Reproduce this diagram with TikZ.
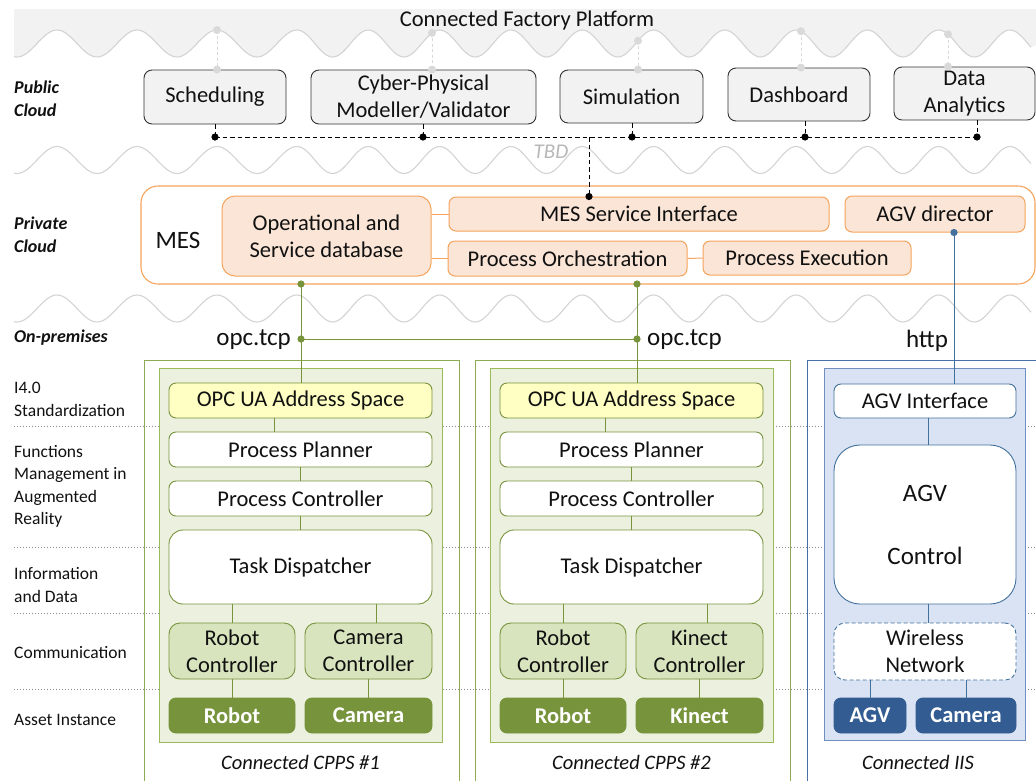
\documentclass[tikz,border=0pt]{standalone}
\usepackage{fontspec}
\setmainfont{Carlito}
\usetikzlibrary{calc}

\definecolor{topgrey}{HTML}{F2F2F2}
\definecolor{wavegrey}{HTML}{D4D4D4}
\definecolor{dotgrey}{HTML}{D9D9D9}
\definecolor{orangeB}{HTML}{F5A45D}
\definecolor{peach}{HTML}{FBE5D6}
\definecolor{greenL}{HTML}{77933C}
\definecolor{greenO}{HTML}{8DAA55}
\definecolor{greenI}{HTML}{9BBB59}
\definecolor{greenBG}{HTML}{EBF1DE}
\definecolor{greenC}{HTML}{D7E4BD}
\definecolor{greenA}{HTML}{77933C}
\definecolor{yellowF}{HTML}{FFFFC3}
\definecolor{blueL}{HTML}{41719C}
\definecolor{blueO}{HTML}{4A6FA5}
\definecolor{blueBG}{HTML}{DAE3F3}
\definecolor{blueI}{HTML}{6F8FC0}
\definecolor{blueA}{HTML}{335C92}
\definecolor{txt}{HTML}{111111}

\newcommand\fs[2]{\fontsize{#1}{#2}\selectfont}
% box node from its corner coordinates: name, x1, y1, x2, y2, style
\newcommand\bx[6]{\node[#6, minimum width={((#4)-(#2))*1pt}, minimum height={((#5)-(#3))*1pt}] (#1) at ({((#2)+(#4))/2},{((#3)+(#5))/2})}

\tikzset{
  declare function={wph(\t)=(\t<=297)*((\t-57)/80)+(\t>297)*(3+(\t-297)/71.3);},
  wv/.style={domain=14:1031, samples=400, smooth},
  box/.style={draw, inner sep=0pt, align=center, text=txt, font=\fs{22.5}{27}},
  pub/.style={box, draw=black!80, fill=topgrey, rounded corners=8pt, line width=0.9pt},
  mesbox/.style={draw=orangeB, fill=white, rounded corners=17pt, line width=1.1pt},
  orng/.style={box, draw=orangeB, fill=peach, rounded corners=7pt, line width=1pt},
  gin/.style={box, draw=greenL, fill=white, rounded corners=7pt, line width=0.9pt},
  gopc/.style={gin, fill=yellowF},
  gctl/.style={gin, fill=greenC},
  gasset/.style={gin, fill=greenA, draw=greenA, text=white, font=\fs{22.5}{27}\bfseries},
  bin/.style={box, draw=blueL, fill=white, rounded corners=7pt, line width=0.9pt},
  basset/.style={bin, fill=blueA, draw=blueA, text=white, font=\fs{22.5}{27}\bfseries},
  side/.style={anchor=west, align=left, inner sep=0pt, text=txt, font=\fs{17.5}{22.5}},
  head/.style={anchor=west, align=left, inner sep=0pt, text=txt, font=\fs{18}{23}\bfseries\itshape},
  capt/.style={inner sep=0pt, text=txt, font=\fs{20.5}{24}\itshape},
  proto/.style={inner sep=0pt, text=txt, font=\fs{25}{30}},
  gline/.style={draw=greenL, line width=1pt},
  bline/.style={draw=blueL, line width=1pt},
  oline/.style={draw=orangeB, line width=1pt},
  wline/.style={draw=wavegrey, line width=1.1pt},
  layer/.style={draw=black!45, line width=0.9pt, dash pattern=on 1.1pt off 1.9pt},
  bus/.style={draw=black, line width=1pt, dash pattern=on 4.5pt off 3pt},
  gdash/.style={draw=dotgrey, line width=1pt, dash pattern=on 3pt off 2.5pt},
}

\begin{document}
\begin{tikzpicture}[x=1pt,y=-1pt]
\useasboundingbox (0,0) rectangle (1036,780);
\fill[white] (0,0) rectangle (1036,780);

% cloud band and wavy separators
\fill[topgrey] (14,9) -- plot[wv] (\x,{43.5-13.5*cos(360*wph(\x))}) -- (1036,45) -- (1036,9) -- cycle;
\draw[wline] plot[wv] (\x,{43.5-13.5*cos(360*wph(\x))});
\draw[wline] plot[wv] (\x,{160-13.5*cos(360*wph(\x))});
\draw[wline] plot[wv] (\x,{308.5-13.5*cos(360*wph(\x))});

\node[inner sep=0pt, text=txt, font=\fs{22.5}{27}] (cfp) at (527,20) {Connected Factory Platform};
\node[inner sep=0pt, text=black!28, font=\fs{21}{25}\itshape] (tbd) at (551,152) {TBD};

% layer captions
\node[head] (lpub) at (14,98.5) {Public\\Cloud};
\node[head] (lpriv) at (14,234.5) {Private\\Cloud};
\node[head] (lprem) at (14,338) {On-premises};
\node[side] (l1) at (14,399.5) {I4.0\\Standardization};
\node[side] (l2) at (14,486.5) {Functions\\Management in\\Augmented\\Reality};
\node[side] (l3) at (14,585) {Information\\and Data};
\node[side] (l4) at (14,653) {Communication};
\node[side] (l5) at (14,720) {Asset Instance};

% public cloud services
\bx{sched}{144}{70}{286}{124}{pub}{Scheduling};
\bx{cyber}{311}{70}{536}{124}{pub}{Cyber-Physical\\Modeller/Validator};
\bx{sim}{560}{70}{703}{123}{pub}{Simulation};
\bx{dash}{728}{68}{870}{121}{pub}{Dashboard};
\bx{data}{894}{67}{1035}{120}{pub}{Data\\Analytics};

% links up to the platform
\foreach \n/\px in {sched/217, cyber/432, sim/638, dash/801, data/948} {
  \coordinate (w-\n) at (\px,{43.5-13.5*cos(360*wph(\px))});
  \draw[gdash] (w-\n) -- (w-\n |- \n.north);
  \fill[dotgrey] (w-\n) circle (4pt);
  \fill[dotgrey] (w-\n |- \n.north) circle (4pt);
}

% service bus
\foreach \n/\px in {sched/215, cyber/423, sim/632, dash/805, data/977} {
  \coordinate (b-\n) at (\px,137);
  \draw[bus] (b-\n |- \n.south) -- (b-\n);
  \fill (b-\n) circle (3.6pt);
}
\draw[bus] (b-sched) -- (b-data);
\coordinate (bm) at (589,137);

% private cloud
\draw[mesbox] (141,186) rectangle (1035,284);
\node[proto] (mes) at (178,240) {MES};
\bx{opdb}{222}{196}{431}{276}{orng, rounded corners=13pt}{Operational and\\Service database};
\bx{mesi}{449}{197}{829}{231}{orng}{MES Service Interface};
\bx{porch}{448}{241}{687}{276}{orng}{Process Orchestration};
\bx{pexec}{703}{241}{911}{275}{orng}{Process Execution};
\bx{agvd}{845}{196}{1025}{232}{orng}{AGV director};
\draw[oline] (opdb.east |- mesi.west) -- (mesi.west);
\draw[oline] (opdb.east |- porch.west) -- (porch.west);
\draw[oline] (porch.east) -- (pexec.west);
\draw[bus] (bm) -- (bm |- mesi.north);
\fill (bm |- mesi.north) circle (3.6pt);

% on-premises frames
\foreach \dx in {0,331} {
  \draw[draw=greenO, line width=1pt] (144+\dx,781) -- (144+\dx,360) -- (459+\dx,360) -- (459+\dx,781);
}
\draw[draw=blueO, line width=1pt] (807,781) -- (807,360) -- (1037,360);

% layer boundaries
\foreach \ly in {426,547,613,689} {
  \draw[layer] (14,\ly) -- (1036,\ly);
}

% connected CPPS cells
\foreach \dx/\k/\cam in {0/1/Camera, 331/2/Kinect} {
  \fill[greenBG] (159+\dx,368) rectangle (442+\dx,742);
  \draw[draw=greenI, line width=1pt] (159+\dx,368) rectangle (442+\dx,742);
  \bx{opc\k}{169+\dx}{383}{432+\dx}{418}{gopc}{OPC UA Address Space};
  \bx{pp\k}{169+\dx}{432}{432+\dx}{467}{gin}{Process Planner};
  \bx{pc\k}{169+\dx}{481}{432+\dx}{516}{gin}{Process Controller};
  \bx{td\k}{169+\dx}{530}{432+\dx}{604}{gin, rounded corners=14pt}{Task Dispatcher};
  \bx{rc\k}{169+\dx}{623}{295+\dx}{679}{gctl, rounded corners=11pt}{Robot\\Controller};
  \bx{cc\k}{305+\dx}{623}{432+\dx}{679}{gctl, rounded corners=11pt}{\cam\\Controller};
  \bx{ra\k}{169+\dx}{698}{295+\dx}{733}{gasset}{Robot};
  \bx{ca\k}{305+\dx}{698}{432+\dx}{733}{gasset}{\cam};
  \node[capt] (cpps\k) at (300.5+\dx,762) {Connected CPPS \#\k};
  \draw[gline] ([xshift=-26.5pt]opc\k.south) -- ([xshift=-26.5pt]pp\k.north);
  \draw[gline] (pp\k.south) -- (pc\k.north);
  \draw[gline] (pc\k.south) -- (td\k.north);
  \draw[gline] (td\k.south -| rc\k) -- (rc\k.north);
  \draw[gline] ([xshift=7.5pt]td\k.south -| cc\k) -- ([xshift=7.5pt]cc\k.north);
  \draw[gline] (rc\k.south) -- (ra\k.north);
  \draw[gline] (cc\k.south) -- (ca\k.north);
}

% connected IIS
\fill[blueBG] (824,368) rectangle (1025,740);
\draw[draw=blueI, line width=1pt] (824,368) rectangle (1025,740);
\bx{agvif}{834}{384}{1016}{418}{bin}{AGV Interface};
\bx{agvc}{834}{445}{1016}{604}{bin, rounded corners=26pt, font=\fs{25}{30}}{AGV\\[33pt]Control};
\bx{wn}{834}{623}{1016}{680}{bin, rounded corners=11pt, dash pattern=on 4pt off 2.5pt}{Wireless\\Network};
\bx{agv}{834}{698}{906}{733}{basset}{AGV};
\bx{cam3}{916}{698}{1016}{733}{basset}{Camera};
\node[capt] (iis) at (918,762) {Connected IIS};
\draw[bline] ([xshift=3pt]agvif.south) -- ([xshift=3pt]agvc.north);
\draw[bline] ([xshift=3pt]agvc.south) -- ([xshift=3pt]wn.north);
\draw[bline] (wn.south -| agv) -- (agv.north);
\draw[bline] (wn.south -| cam3) -- (cam3.north);

% OPC UA links to the MES
\coordinate (mesb) at (0,284);
\coordinate (j1) at (301,339);
\coordinate (j2) at (637,339);
\draw[gline] (mesb -| j1) -- (j1 |- opc1.north);
\draw[gline] (mesb -| j2) -- (j2 |- opc2.north);
\draw[gline] (j1) -- (j2);
\foreach \p in {j1,j2} {
  \fill[greenL] (\p) circle (3.6pt);
  \fill[greenL] (mesb -| \p) circle (3.6pt);
}
\node[proto, anchor=east] (opcl) at (291,340) {opc.tcp};
\node[proto, anchor=west] (opcr) at (647,340) {opc.tcp};

% HTTP link to the AGV director
\coordinate (hx) at (954,0);
\draw[bline] (agvd.south -| hx) -- (agvif.north -| hx);
\fill[blueL] (agvd.south -| hx) circle (3.6pt);
\node[proto] (http) at (927,341) {http};
\end{tikzpicture}
\end{document}
